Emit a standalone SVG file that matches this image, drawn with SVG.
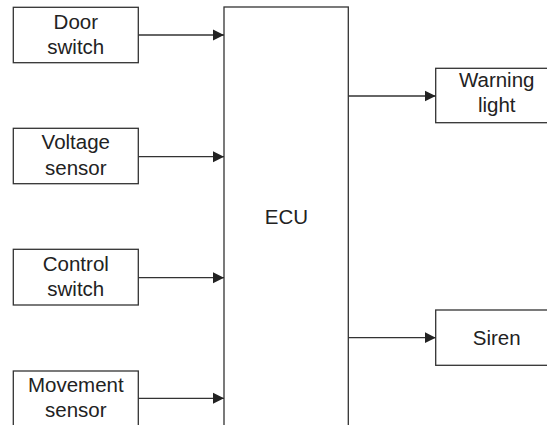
<svg xmlns="http://www.w3.org/2000/svg" width="547" height="425" viewBox="0 0 547 425">
<style>
.box{fill:#fff;stroke:#333;stroke-width:1.3}
.t{font-family:"Liberation Sans",Arial,sans-serif;font-size:20.5px;fill:#222;text-anchor:middle}
.c{stroke:#333;stroke-width:1.3;fill:none}
</style>
<defs>
<marker id="ah" markerWidth="12" markerHeight="12" refX="11" refY="6" orient="auto" markerUnits="userSpaceOnUse">
<path d="M0,0.5 L11,6 L0,11.5 Z" fill="#222"/>
</marker>
</defs>
<rect width="547" height="425" fill="#fff"/>
<g id="ecu">
<rect class="box" x="224" y="7" width="124.3" height="430"/>
<text class="t" x="286.4" y="224.3">ECU</text>
</g>
<g id="door">
<rect class="box" x="13.3" y="7.3" width="125" height="55.4"/>
<text class="t" x="75.8" y="29.3">Door</text>
<text class="t" x="75.8" y="54.3">switch</text>
</g>
<g id="voltage">
<rect class="box" x="13.3" y="128.3" width="125" height="55.4"/>
<text class="t" x="75.8" y="149.3">Voltage</text>
<text class="t" x="75.8" y="174.8">sensor</text>
</g>
<g id="control">
<rect class="box" x="13.3" y="249.3" width="125" height="55.7"/>
<text class="t" x="75.8" y="271">Control</text>
<text class="t" x="75.8" y="296">switch</text>
</g>
<g id="movement">
<rect class="box" x="13.3" y="371" width="125" height="70"/>
<text class="t" x="75.8" y="391.7">Movement</text>
<text class="t" x="75.8" y="416.7">sensor</text>
</g>
<g id="warning">
<rect class="box" x="435.7" y="68.3" width="122" height="54.4"/>
<text class="t" x="496.7" y="87">Warning</text>
<text class="t" x="496.7" y="112">light</text>
</g>
<g id="siren">
<rect class="box" x="435.7" y="310" width="122" height="55.3"/>
<text class="t" x="496.7" y="344.5">Siren</text>
</g>
<g id="connectors">
<line class="c" x1="138.3" y1="35" x2="224" y2="35" marker-end="url(#ah)"/>
<line class="c" x1="138.3" y1="156.7" x2="224" y2="156.7" marker-end="url(#ah)"/>
<line class="c" x1="138.3" y1="277.7" x2="224" y2="277.7" marker-end="url(#ah)"/>
<line class="c" x1="138.3" y1="398.3" x2="224" y2="398.3" marker-end="url(#ah)"/>
<line class="c" x1="348.3" y1="96" x2="435.7" y2="96" marker-end="url(#ah)"/>
<line class="c" x1="348.3" y1="337.7" x2="435.7" y2="337.7" marker-end="url(#ah)"/>
</g>
</svg>
